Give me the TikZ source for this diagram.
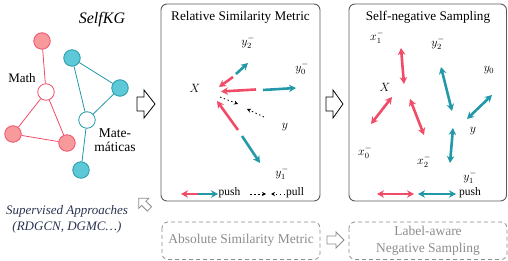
\documentclass[tikz,border=0pt]{standalone}
\usepackage{fontspec}
\setmainfont{Liberation Serif}
\usetikzlibrary{arrows.meta}
\definecolor{cred}{HTML}{F04C68}
\definecolor{cteal}{HTML}{2298A8}
\definecolor{rfill}{HTML}{F89A9C}
\definecolor{tfill}{HTML}{5CC8D8}
\definecolor{panelc}{HTML}{5A5A5A}
\definecolor{dashc}{HTML}{8C8C8C}
\definecolor{navy}{HTML}{2A3350}
\begin{document}
\begin{tikzpicture}[x=1pt,y=-1pt,
  rnode/.style={circle,draw=cred,fill=rfill,line width=0.8pt,minimum size=16.5pt,inner sep=0pt},
  rhol/.style={circle,draw=cred,fill=white,line width=0.8pt,minimum size=16.5pt,inner sep=0pt},
  tnode/.style={circle,draw=cteal,fill=tfill,line width=0.8pt,minimum size=16.5pt,inner sep=0pt},
  thol/.style={circle,draw=cteal,fill=white,line width=0.8pt,minimum size=16.5pt,inner sep=0pt},
  redge/.style={draw=cred,line width=0.8pt},
  tedge/.style={draw=cteal,line width=0.8pt},
  panel/.style={draw=panelc,line width=0.9pt,rounded corners=6pt},
  dpanel/.style={draw=dashc,dash pattern=on 4pt off 3pt,line width=0.8pt,rounded corners=6pt},
  lbl/.style={font=\fontsize{12}{13}\selectfont,inner sep=0pt},
  leg/.style={font=\fontsize{11.5}{12}\selectfont,inner sep=0pt,anchor=west},
  ttl/.style={font=\fontsize{13.2}{15}\selectfont,inner sep=0pt},
  pushr/.style={cred,line width=2.6pt,-{Stealth[length=7pt,width=7.5pt]}},
  pusht/.style={cteal,line width=2.6pt,-{Stealth[length=7pt,width=7.5pt]}},
  dpr/.style={cred,line width=2.6pt,{Stealth[length=7pt,width=7.5pt]}-{Stealth[length=7pt,width=7.5pt]}},
  dpt/.style={cteal,line width=2.6pt,{Stealth[length=7pt,width=7.5pt]}-{Stealth[length=7pt,width=7.5pt]}},
  pullarr/.style={black,line width=0.8pt,dash pattern=on 1.5pt off 2.5pt,-{Stealth[length=4pt,width=4pt]}},
  hollow/.style={draw=black,line width=0.8pt,fill=white,line join=miter},
  ghollow/.style={draw=dashc,line width=0.8pt,fill=white,line join=miter},
]
\useasboundingbox (0,0) rectangle (508,261);

% ---------- left: graph ----------
\node[font=\fontsize{16}{18}\selectfont\itshape,inner sep=0pt] (selfkg) at (102,20) {SelfKG};
\node[rnode] (r1) at (42,41) {};
\node[rhol]  (r0) at (46,92) {};
\node[rnode] (r2) at (13,134) {};
\node[rnode] (r3) at (67,143) {};
\draw[redge] (r1) -- (r0);
\draw[redge] (r0) -- (r2);
\draw[redge] (r0) -- (r3);
\draw[redge] (r2) -- (r3);
\node[tnode] (t1) at (72,58) {};
\node[tnode] (t2) at (120,88) {};
\node[thol]  (t0) at (87,120) {};
\node[tnode] (t3) at (81,170) {};
\draw[tedge] (t1) -- (t2);
\draw[tedge] (t1) -- (t0);
\draw[tedge] (t2) -- (t0);
\draw[tedge] (t0) -- (t3);
\node[font=\fontsize{13}{14}\selectfont,inner sep=0pt] (math) at (22,78) {Math};
\node[font=\fontsize{13.5}{15}\selectfont,inner sep=0pt,align=center] (mate) at (115,140) {Mate-\\[-1pt]máticas};

\node[font=\fontsize{13}{15}\selectfont\itshape,text=navy,inner sep=0pt,align=center] (sup) at (67,219)
  {Supervised Approaches\\[1pt](RDGCN, DGMC…)};

% small gray hollow arrow
\begin{scope}[shift={(144.5,204)},rotate=135]
  \draw[ghollow] (-7,-3) -- (1,-3) -- (1,-7) -- (8,0) -- (1,7) -- (1,3) -- (-7,3) -- cycle;
\end{scope}

% big hollow arrows
\draw[hollow] (137,97) -- (144,97) -- (144,90) -- (155,104) -- (144,118) -- (144,111) -- (137,111) -- cycle;
\draw[hollow] (326,97) -- (333,97) -- (333,90) -- (343,104) -- (333,118) -- (333,111) -- (326,111) -- cycle;
\draw[ghollow] (327,236) -- (336,236) -- (336,232) -- (344,240) -- (336,248) -- (336,244) -- (327,244) -- cycle;

% ---------- middle panel ----------
\draw[panel] (161,4) rectangle (320,201);
\node[ttl] (t-rel) at (240.5,17) {Relative Similarity Metric};
\node[lbl] (m-y2) at (248,42) {$y_2^-$};
\node[lbl] (m-y0) at (302,68) {$y_0^-$};
\node[lbl] (m-X)  at (195,88) {$X$};
\node[lbl] (m-y)  at (285,127) {$y$};
\node[lbl] (m-y1) at (282,173) {$y_1^-$};
\draw[pusht] (236,74) -- (248,63);
\draw[pushr] (233,77) -- (219,87);
\draw[pushr] (256,89.5) -- (221,91.5);
\draw[pusht] (263,90) -- (296,88);
\draw[pushr] (238,130) -- (217,101);
\draw[pusht] (242,136) -- (260,163);
\draw[pullarr] (220,97) -- (238,104);
\draw[pullarr] (264,117) -- (247,109);
% legend
\draw[pushr] (198.5,194) -- (181,194);
\draw[pusht] (197.5,194) -- (218,194);
\node[leg] (m-push) at (218.5,192.5) {push};
\draw[pullarr] (250,194) -- (266,194);
\draw[pullarr] (285,194) -- (271,194);
\node[leg] (m-pull) at (286,192.5) {pull};

% ---------- right panel ----------
\draw[panel] (349,4) rectangle (506.5,201);
\node[ttl] (t-self) at (428,17) {Self-negative Sampling};
\node[lbl] (r-x1) at (377,37) {$x_1^-$};
\node[lbl] (r-y2) at (438,43) {$y_2^-$};
\node[lbl] (r-y0) at (489,70) {$y_0$};
\node[lbl] (r-X)  at (385,87) {$X$};
\node[lbl] (r-y)  at (473,131) {$y$};
\node[lbl] (r-x0) at (365,152) {$x_0^-$};
\node[lbl] (r-x2) at (424,161) {$x_2^-$};
\node[lbl] (r-y1) at (470,177) {$y_1^-$};
\draw[dpr] (401,48) -- (404,84);
\draw[dpr] (392,97) -- (371,124);
\draw[dpr] (410,99) -- (424,135);
\draw[dpt] (441,67) -- (452,111);
\draw[dpt] (492,95) -- (467,119);
\draw[dpt] (453,128) -- (450,163);
% legend
\draw[pushr] (396,194) -- (377,194);
\draw[pushr] (395,194) -- (414,194);
\draw[pusht] (437,194) -- (418,194);
\draw[pusht] (436,194) -- (456,194);
\node[leg] (r-push) at (459,192.5) {push};

% ---------- bottom dashed ----------
\draw[dpanel] (162,222) rectangle (320,259.5);
\node[font=\fontsize{13.5}{15}\selectfont,text=dashc,inner sep=0pt] (abs) at (241,240) {Absolute Similarity Metric};
\draw[dpanel] (349,222) rectangle (507,259.5);
\node[font=\fontsize{13.5}{16.5}\selectfont,text=dashc,inner sep=0pt,align=center] (lan) at (428,241) {Label-aware\\Negative Sampling};
\end{tikzpicture}
\end{document}
